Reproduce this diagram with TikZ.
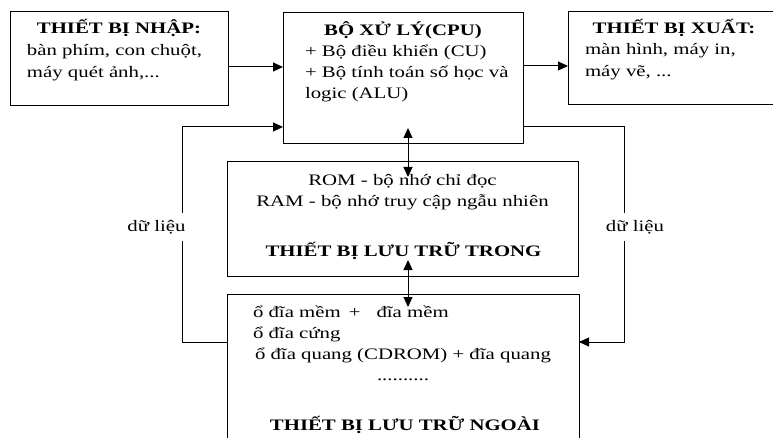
\documentclass[tikz,border=0pt]{standalone}
\usepackage{fontspec}
\setmainfont[FakeStretch=1.3]{Liberation Serif}
\usetikzlibrary{arrows.meta}
\begin{document}
\begin{tikzpicture}[x=1pt,y=-1pt,
  box/.style={draw=black,line width=1pt,inner sep=0pt,outer sep=0pt},
  txt/.style={inner sep=0pt,outer sep=0pt,font=\fontsize{16}{21}\selectfont},
  txtl/.style={txt,anchor=base west},
  txtc/.style={txt,anchor=base},
  head/.style={txtc,font=\fontsize{16}{21}\selectfont\bfseries},
  conn/.style={line width=1pt,-{Triangle[length=10pt,width=9pt]}},
  conn2/.style={line width=1pt,{Triangle[length=10pt,width=9pt]}-{Triangle[length=10pt,width=9pt]}},
  lbl/.style={txt,fill=white,inner xsep=3pt,inner ysep=7pt}]
\useasboundingbox (0,0) rectangle (773,438);
\clip (0,0) rectangle (773,438);
% boxes
\node[box,minimum width=218pt,minimum height=94pt] (inp) at (119,59) {};
\node[box,minimum width=240pt,minimum height=131pt] (cpu) at (403,78.5) {};
\node[box,minimum width=212pt,minimum height=93pt] (out) at (674,58.5) {};
\node[box,minimum width=351pt,minimum height=114pt] (rom) at (402.5,219) {};
\node[box,minimum width=352pt,minimum height=152pt] (ext) at (403,370) {};
% texts
\node[head] (inph) at (119,34) {THIẾT BỊ NHẬP:};
\node[txtl] (inp1) at (27,56) {bàn phím, con chuột,};
\node[txtl] (inp2) at (27,78) {máy quét ảnh,...};
\node[head] (cpuh) at (403,36) {BỘ XỬ LÝ(CPU)};
\node[txtl] (cpu1) at (305,57) {+ Bộ điều khiển (CU)};
\node[txtl] (cpu2) at (305,78) {+ Bộ tính toán số học và};
\node[txtl] (cpu3) at (305,99) {logic (ALU)};
\node[head] (outh) at (674,34) {THIẾT BỊ XUẤT:};
\node[txtl] (out1) at (585,55) {màn hình, máy in,};
\node[txtl] (out2) at (585,77) {máy vẽ, ...};
\node[txtc] (rom1) at (402.5,186) {ROM - bộ nhớ chỉ đọc};
\node[txtc] (rom2) at (402.5,207) {RAM - bộ nhớ truy cập ngẫu nhiên};
\node[head] (romh) at (403.5,257) {THIẾT BỊ LƯU TRỮ TRONG};
\node[txtl] (ext1) at (253,317) {ổ đĩa mềm\hspace{8pt}+\hspace{16pt}đĩa mềm};
\node[txtl] (ext2) at (253,338) {ổ đĩa cứng};
\node[txtl] (ext3) at (255,359) {ổ đĩa quang (CDROM) + đĩa quang};
\node[txtc] (ext4) at (403,380) {..........};
\node[head] (exth) at (405,430) {THIẾT BỊ LƯU TRỮ NGOÀI};
% connectors
\coordinate (lx) at (182,0);
\coordinate (rx) at (624,0);
\draw[conn] ([yshift=-8pt]inp.east) -- ([yshift=-8pt]inp.east -| cpu.west);
\draw[conn] ([yshift=12.5pt]cpu.east) -- ([yshift=12.5pt]cpu.east -| out.west);
\draw[conn] ([yshift=28pt]ext.west) -- ([yshift=28pt]ext.west -| lx) |- ([yshift=-48.5pt]cpu.west);
\draw[conn] ([yshift=-48.5pt]cpu.east) -| ([yshift=28pt]ext.east -| rx) -- ([yshift=28pt]ext.east);
\draw[conn2] ([xshift=5pt,yshift=16pt]cpu.south) -- ([xshift=5.5pt,yshift=-15pt]rom.north);
\draw[conn2] ([xshift=5.5pt,yshift=16pt]rom.south) -- ([xshift=5pt,yshift=-13pt]ext.north);
\node[lbl] (d1) at (156.5,227) {dữ liệu};
\node[lbl] (d2) at (635,227) {dữ liệu};
\end{tikzpicture}
\end{document}
